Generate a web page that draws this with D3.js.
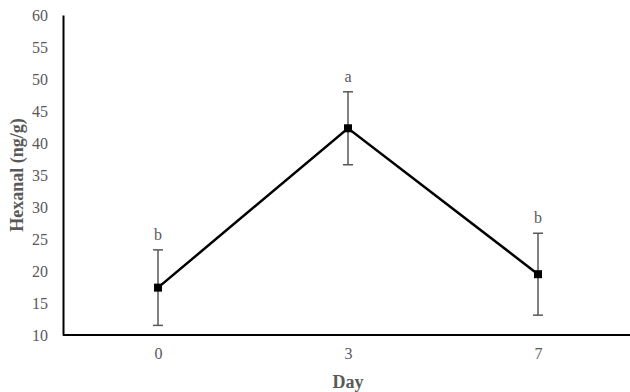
<!DOCTYPE html>
<html>
<head>
<meta charset="utf-8">
<script src="https://cdn.jsdelivr.net/npm/d3@7"></script>
<style>
  html, body { margin: 0; padding: 0; background: #fff; }
  svg { display: block; }
</style>
</head>
<body>
<svg id="chart" width="630" height="392"></svg>
<script>
// Hexanal content over storage days
const days = ["0", "3", "7"];
const hexanal = [17.4, 42.3, 19.5];
const errors = [5.9, 5.7, 6.4];
const letters = ["b", "a", "b"];
const yTicks = [10, 15, 20, 25, 30, 35, 40, 45, 50, 55, 60];

const svg = d3.select("#chart");
const plotLeft = 63, plotRight = 633, plotTop = 15, plotBottom = 335;
const grey = "#595959";
const font = "'Liberation Serif', 'Times New Roman', serif";

const x = d3.scalePoint().domain(days).range([plotLeft, plotRight]).padding(0.5);
const y = d3.scaleLinear().domain([10, 60]).range([plotBottom, plotTop]);

// y axis labels
const yAxis = svg.append("g").attr("transform", `translate(${plotLeft},0)`)
  .call(d3.axisLeft(y).tickValues(yTicks).tickSize(0).tickPadding(15).tickFormat(d3.format("d")));
yAxis.select(".domain").attr("stroke", "#000").attr("stroke-width", 2);
yAxis.selectAll("text").attr("font-family", font).attr("font-size", 16).attr("fill", grey);

// x axis labels
const xAxis = svg.append("g").attr("transform", `translate(0,${plotBottom})`)
  .call(d3.axisBottom(x).tickSize(0).tickPadding(13));
xAxis.select(".domain").attr("stroke", "#000").attr("stroke-width", 2).attr("d", `M${plotLeft},0H630`);
xAxis.selectAll("text").attr("font-family", font).attr("font-size", 16).attr("fill", grey);

// error bars
const eb = svg.append("g").attr("stroke", grey).attr("stroke-width", 1.5).attr("fill", "none");
days.forEach((d, i) => {
  const cx = x(d), y1 = y(hexanal[i] + errors[i]), y0 = y(hexanal[i] - errors[i]);
  eb.append("line").attr("x1", cx).attr("x2", cx).attr("y1", y1).attr("y2", y0);
  eb.append("line").attr("x1", cx - 5).attr("x2", cx + 5).attr("y1", y1).attr("y2", y1);
  eb.append("line").attr("x1", cx - 5).attr("x2", cx + 5).attr("y1", y0).attr("y2", y0);
});

// mean line
const line = d3.line().x((v, i) => x(days[i])).y(v => y(v));
svg.append("path").datum(hexanal).attr("d", line)
  .attr("fill", "none").attr("stroke", "#000").attr("stroke-width", 2.5);

// markers
svg.append("g").selectAll("rect").data(hexanal).join("rect")
  .attr("x", (v, i) => x(days[i]) - 4).attr("y", v => y(v) - 4)
  .attr("width", 8).attr("height", 8).attr("fill", "#000");

// significance letters
svg.append("g").selectAll("text").data(letters).join("text")
  .attr("x", (l, i) => x(days[i]))
  .attr("y", (l, i) => y(hexanal[i] + errors[i]) - 10)
  .attr("text-anchor", "middle")
  .attr("font-family", font).attr("font-size", 16).attr("fill", grey)
  .text(l => l);

// axis titles
svg.append("text")
  .attr("transform", `translate(23,${(plotTop + plotBottom) / 2}) rotate(-90)`)
  .attr("text-anchor", "middle")
  .attr("font-family", font).attr("font-size", 18).attr("font-weight", "bold").attr("fill", grey)
  .text("Hexanal (ng/g)");
svg.append("text")
  .attr("x", x("3")).attr("y", 388)
  .attr("text-anchor", "middle")
  .attr("font-family", font).attr("font-size", 18).attr("font-weight", "bold").attr("fill", grey)
  .text("Day");
</script>
</body>
</html>
